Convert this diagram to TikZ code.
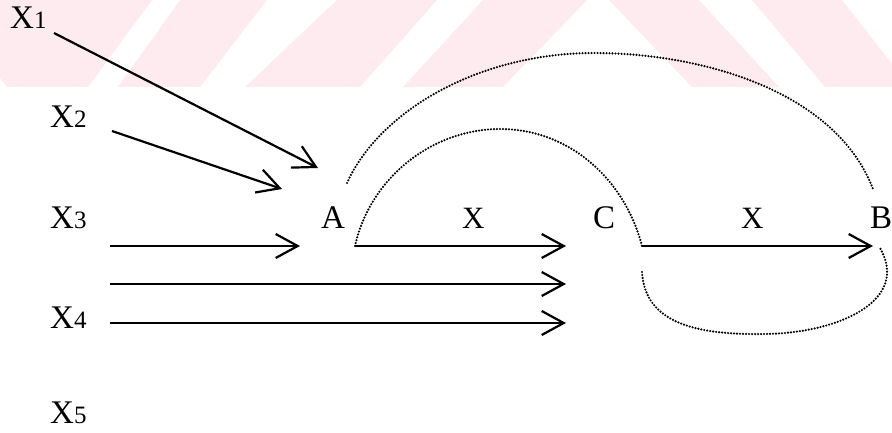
\documentclass[tikz,border=0pt]{standalone}
\usepackage{fontspec}
\setmainfont{Liberation Serif}
\usetikzlibrary{arrows.meta,calc}
\definecolor{wmpink}{RGB}{253,235,239}
\newcommand{\xnum}[1]{{\fontsize{25pt}{25pt}\selectfont #1}}

\begin{document}
\begin{tikzpicture}[
  x=1pt, y=-1pt,
  font=\fontsize{33pt}{33pt}\selectfont,
  >={Straight Barb[length=22pt,width=24pt]},
  lbl/.style={anchor=base west, inner sep=0pt},
  arr/.style={->, line width=2.2pt},
  dots/.style={line width=2.4pt, line cap=round, dash pattern=on 0pt off 3pt},
  wm/.style={fill=wmpink, draw=none}
]
\useasboundingbox (0,0) rectangle (892,433);
% ---------------- watermark band
\fill[wm] (0,0) -- (152,0) -- (88,87) -- (7,87) -- (0,78) -- cycle;
\fill[wm] (180,0) -- (267,0) -- (200,87) -- (118,87) -- cycle;
\fill[wm] (337,0) -- (437,0) -- (360,87) -- (245,87) -- cycle;
\fill[wm] (483,0) -- (587,0) -- (503,87) -- (403,87) -- cycle;
\fill[wm] (609,0) -- (699,0) -- (779,87) -- (692,87) -- cycle;
\fill[wm] (752,0) -- (842,0) -- (910,87) -- (825,87) -- cycle;
% ---------------- variables
\node[lbl] (x1) at (10,29) {X\xnum{1}};
\node[lbl] (x2) at (50,128) {X\xnum{2}};
\node[lbl] (x3) at (50,228) {X\xnum{3}};
\node[lbl] (x4) at (50,328) {X\xnum{4}};
\node[lbl] (x5) at (50,423) {X\xnum{5}};
% ---------------- states
\node[lbl] (a) at (321,228) {A};
\node[lbl] (c) at (593,228) {C};
\node[lbl] (b) at (870,228) {B};
\node[lbl, font=\fontsize{31pt}{31pt}\selectfont] (ac) at (462,228) {X};
\node[lbl, font=\fontsize{31pt}{31pt}\selectfont] (cb) at (741,228) {X};
% ---------------- inputs
\draw[arr] ([shift={(44,4)}]x1.base west) -- ([shift={(-3,-60)}]a.base west);
\draw[arr] ([shift={(62,3)}]x2.base west) -- ([shift={(-39,-39)}]a.base west);
\draw[arr] ([shift={(60,18)}]x3.base west) -- ([shift={(-21,18)}]a.base west);
\draw[arr] ([shift={(60,-44)}]x4.base west) -- ([shift={(-27,56)}]c.base west);
\draw[arr] ([shift={(60,-5)}]x4.base west) -- ([shift={(-27,95)}]c.base west);
% ---------------- transitions
\draw[arr] ([shift={(34,18)}]a.base west) coordinate (a0) -- ([shift={(-27,18)}]c.base west);
\draw[arr] ([shift={(49,18)}]c.base west) coordinate (c0) -- ([shift={(3,18)}]b.base west);
% dotted loops
\draw[dots] ([shift={(26,-45)}]a.base west) .. controls (380,110) and (480,53) .. (594,53)
  .. controls (700,53) and (835,90) .. ([shift={(3,-39)}]b.base west);
\draw[dots] (a0) .. controls (370,178) and (432,129) .. (500,129)
  .. controls (570,129) and (625,180) .. (c0);
\draw[dots] ([shift={(49,44)}]c.base west) .. controls (645,325) and (700,335) .. (765,334)
  .. controls (840,333) and (910,300) .. ([shift={(10,20)}]b.base west);
\end{tikzpicture}
\end{document}
